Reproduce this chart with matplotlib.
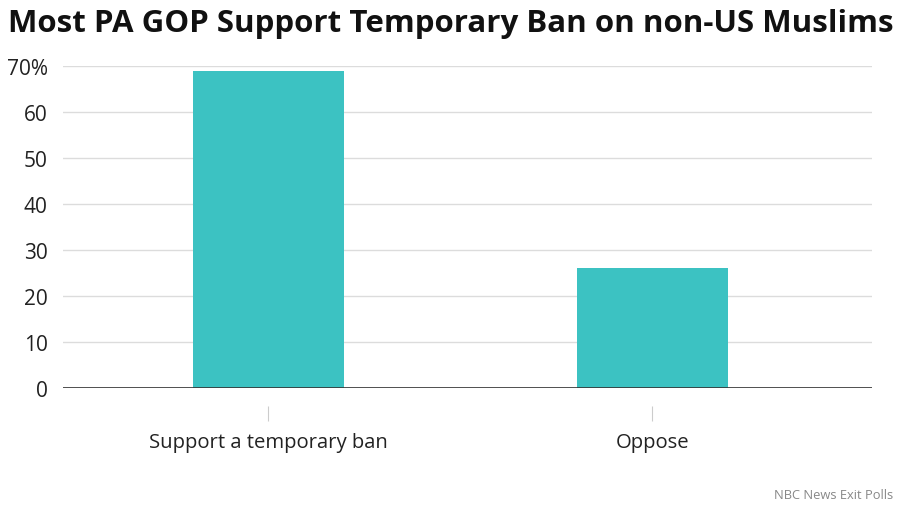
import matplotlib
matplotlib.use("Agg")
import matplotlib.pyplot as plt

categories = ["Support a temporary ban", "Oppose"]
values = [69, 26]
y_ticks = [0, 10, 20, 30, 40, 50, 60, 70]
y_tick_labels = ["0", "10", "20", "30", "40", "50", "60", "70%"]

title = "Most PA GOP Support Temporary Ban on non-US Muslims"
source = "NBC News Exit Polls"

plt.rcParams['font.family'] = ['Open Sans', 'DejaVu Sans']

fig = plt.figure(figsize=(9, 5.06), dpi=100)
ax = fig.add_axes([63 / 900, 1 - 389 / 506, (872 - 63) / 900, (389 - 67) / 506])

x = list(range(len(categories)))
ax.bar(x, values, width=0.393, color='#3cc2c2', zorder=3)

ax.set_xlim(-0.535, 1.572)
ax.set_ylim(0, 70)
ax.set_yticks(y_ticks)
ax.set_yticklabels(y_tick_labels)
ax.set_xticks(x)
ax.set_xticklabels(categories)

ax.grid(axis='y', color='#dcdcdc', linewidth=1, zorder=0)
ax.axhline(0, color='#333333', linewidth=1.2, zorder=4)

for s in ax.spines.values():
    s.set_visible(False)
ax.spines['bottom'].set_position(('outward', 13))

ax.tick_params(axis='y', length=0, pad=11, labelsize=15, labelcolor='#222222')
ax.tick_params(axis='x', length=11, width=0.8, color='#cccccc', pad=8,
               labelsize=14.6, labelcolor='#222222')

fig.text(8 / 900, 1 - 24 / 506, title, fontsize=22.5, fontweight='bold',
         color='#111111', va='center', ha='left')
fig.text(893 / 900, 1 - 496 / 506, source, fontsize=9.3, color='#888888',
         va='center', ha='right')

fig.savefig("out.png", dpi=100)
